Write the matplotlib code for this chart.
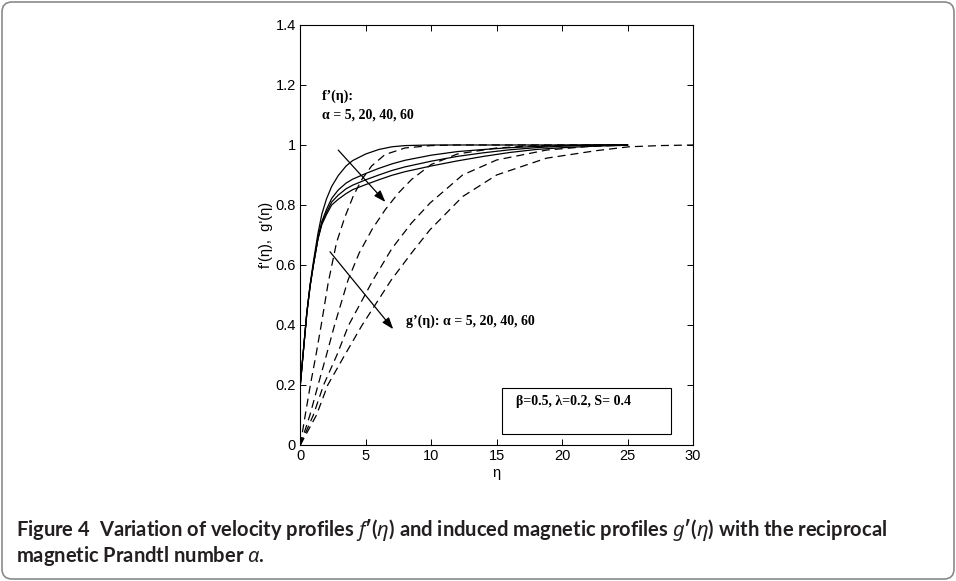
import matplotlib
matplotlib.use("Agg")
import matplotlib.pyplot as plt
from matplotlib.patches import Rectangle, FancyBboxPatch
from matplotlib.ticker import FuncFormatter

# ---- data ----
# velocity profiles f'(eta), alpha = 5, 20, 40, 60 (solid)
eta_f = [0, 0.25, 0.5, 0.75, 1.0, 1.35, 1.65, 2.0, 2.4, 2.9, 3.5, 4.0, 5.0, 6.0,
         7.0, 8.0, 10, 12, 14, 16, 18, 20, 22.5, 25]
f_a5 = [0.2, 0.32, 0.44, 0.535, 0.61, 0.705, 0.77, 0.82, 0.862, 0.898, 0.93, 0.948,
        0.970, 0.985, 0.994, 0.998, 1.0, 1.0, 1.0, 1.0, 1.0, 1.0, 1.0, 1.0]
f_a20 = [0.2, 0.32, 0.44, 0.53, 0.6, 0.69, 0.745, 0.785, 0.822, 0.85, 0.873, 0.886,
         0.905, 0.922, 0.937, 0.949, 0.966, 0.978, 0.985, 0.991, 0.995, 0.998, 1.0, 1.0]
f_a40 = [0.2, 0.32, 0.44, 0.53, 0.6, 0.688, 0.74, 0.775, 0.81, 0.833, 0.854, 0.866,
         0.884, 0.9, 0.915, 0.927, 0.946, 0.962, 0.974, 0.984, 0.991, 0.996, 0.999, 1.0]
f_a60 = [0.2, 0.32, 0.44, 0.53, 0.6, 0.686, 0.735, 0.768, 0.8, 0.819, 0.838, 0.851,
         0.868, 0.884, 0.899, 0.911, 0.93, 0.947, 0.962, 0.975, 0.985, 0.991, 0.996, 0.999]

# induced magnetic profiles g'(eta) (dashed)
eta_g5 = [0, 0.38, 0.77, 1.2, 1.6, 2.13, 2.77, 3.41, 4.05, 4.7, 5.45, 6.47, 8, 10, 12, 15, 20, 25]
g_a5 = [0, 0.1, 0.2, 0.3, 0.4, 0.54, 0.675, 0.76, 0.83, 0.885, 0.93, 0.968, 0.99, 0.998,
        1.0, 1.0, 1.0, 1.0]
eta_g20 = [0, 0.74, 1.36, 2.0, 2.62, 3.65, 4.5, 5.5, 6.5, 7.5, 8.5, 10, 12, 15, 18, 25]
g_a20 = [0, 0.1, 0.2, 0.3, 0.4, 0.55, 0.64, 0.72, 0.785, 0.84, 0.885, 0.935, 0.97, 0.99,
         0.998, 1.0]
eta_g40 = [0, 1.0, 1.78, 2.8, 3.7, 5.56, 7.0, 8.5, 9.9, 12.4, 15, 18.8, 22, 25]
g_a40 = [0, 0.1, 0.2, 0.3, 0.4, 0.55, 0.655, 0.74, 0.806, 0.9, 0.95, 0.983, 0.995, 1.0]
eta_g60 = [0, 1.24, 2.1, 3.4, 4.73, 6.95, 8.5, 9.9, 12.4, 15, 18.8, 22.6, 25.1, 27.5, 30]
g_a60 = [0, 0.1, 0.2, 0.3, 0.4, 0.55, 0.64, 0.717, 0.828, 0.9, 0.956, 0.981, 0.994, 0.998, 1.0]

x_ticks = [0, 5, 10, 15, 20, 25, 30]
y_ticks = [0, 0.2, 0.4, 0.6, 0.8, 1.0, 1.2, 1.4]

plt.rcParams['mathtext.fontset'] = 'custom'
plt.rcParams['mathtext.rm'] = 'Lato:bold'
plt.rcParams['mathtext.it'] = 'Noto Sans:italic:bold'
plt.rcParams['mathtext.bf'] = 'Lato:bold'

sans = ['Liberation Sans', 'DejaVu Sans']
serif = ['Liberation Serif', 'DejaVu Serif']

fig = plt.figure(figsize=(9.56, 5.81), dpi=100)
ax = fig.add_axes([0.3141, 0.2341, 0.4108, 0.7229])

lw = 0.9
dash = (0, (6.4, 4.0))
for y in (f_a5, f_a20, f_a40, f_a60):
    ax.plot(eta_f, y, color='k', lw=lw)
for x, y in ((eta_g5, g_a5), (eta_g20, g_a20), (eta_g40, g_a40), (eta_g60, g_a60)):
    ax.plot(x, y, color='k', lw=lw, linestyle=dash)

ax.set_xlim(0, 30)
ax.set_ylim(0, 1.4)
ax.set_xticks(x_ticks)
ax.set_yticks(y_ticks)
ax.yaxis.set_major_formatter(FuncFormatter(lambda v, p: '%g' % round(v, 2)))
ax.tick_params(direction='in', length=4, width=0.7, top=True, right=True,
               labelsize=10.5, pad=3)
for lab in ax.get_xticklabels() + ax.get_yticklabels():
    lab.set_family(sans)
for s in ax.spines.values():
    s.set_linewidth(0.8)

ax.set_xlabel('η', family=sans, fontsize=10.5, labelpad=2)
ax.set_ylabel("f'(η),  g'(η)", family=sans, fontsize=10.5, labelpad=2)

# annotations
tk = dict(family=serif, fontweight='bold', fontsize=10, color='k')
ax.text(1.63, 1.161, 'f’(η):', va='center', ha='left', **tk)
ax.text(1.63, 1.10, 'α = 5, 20, 40, 60', va='center', ha='left', **tk)
ax.text(8.05, 0.411, 'g’(η): α = 5, 20, 40, 60', va='center', ha='left', **tk)

arrow = dict(arrowstyle='-|>,head_length=0.7,head_width=0.25', color='k', lw=0.9,
             shrinkA=0, shrinkB=0)
ax.annotate('', xy=(6.5, 0.81), xytext=(2.9, 0.983), arrowprops=arrow)
ax.annotate('', xy=(7.1, 0.386), xytext=(2.27, 0.644), arrowprops=arrow)

ax.add_patch(Rectangle((15.42, 0.036), 12.88, 0.155, fill=True, fc='white',
                       ec='k', lw=0.8, zorder=3))
ax.text(16.5, 0.144, 'β=0.5, λ=0.2, S= 0.4', va='center', ha='left', zorder=4, **tk)

# caption
cap = dict(family='Lato', fontweight='bold', fontsize=14.5, color='#231f20')
fig.text(16 / 956, 1 - 530 / 581,
         r"Figure 4  Variation of velocity profiles $f$′($\eta$) and induced magnetic "
         r"profiles $g$′($\eta$) with the reciprocal", va='center', ha='left', **cap)
fig.text(16 / 956, 1 - 556 / 581, r"magnetic Prandtl number $\alpha$.",
         va='center', ha='left', **cap)

# rounded frame
fig.add_artist(FancyBboxPatch((0.02, 0.02), 9.52, 5.77,
                              boxstyle='round,pad=0,rounding_size=0.1',
                              transform=fig.dpi_scale_trans, fill=False,
                              ec='#8a8a8a', lw=1.2))

fig.savefig('out.png', dpi=100)
